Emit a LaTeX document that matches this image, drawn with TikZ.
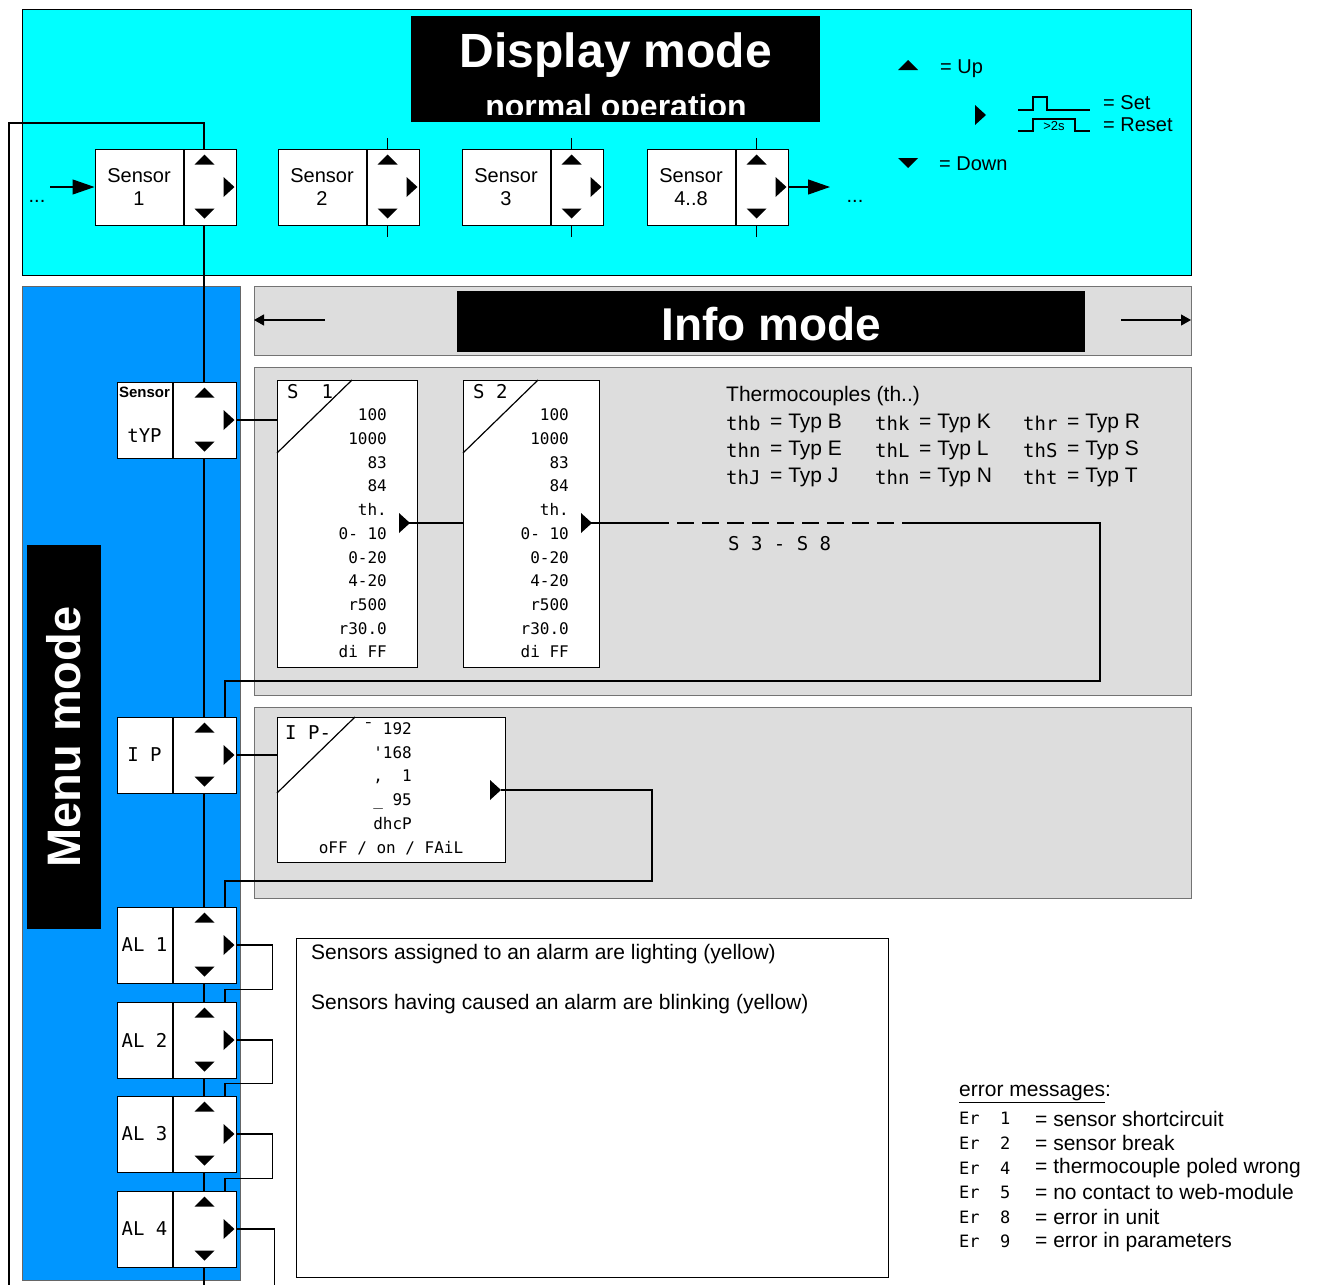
\documentclass[tikz,border=0pt]{standalone}
\usepackage{fontspec}
\setmainfont{Liberation Sans}
\newfontfamily\segfont{DejaVu Sans Mono}
\usetikzlibrary{calc,arrows.meta}

\definecolor{dispcyan}{RGB}{0,255,255}
\definecolor{menublue}{RGB}{0,150,255}
\definecolor{infogray}{RGB}{221,221,221}

\tikzset{
  uptri/.pic={\fill (-10,4) -- (10,4) -- (0,-6) -- cycle;},
  dntri/.pic={\fill (-10,-4) -- (10,-4) -- (0,6) -- cycle;},
  rttri/.pic={\fill (-5,-10) -- (-5,10) -- (6,0) -- cycle;}
}

\begin{document}
\begin{tikzpicture}[x=1pt,y=-1pt,
every node/.style={inner sep=0pt,font=\fontsize{20}{23}\selectfont},
wire/.style={line width=1.2pt},
namebox/.style={draw,fill=white,line width=1pt,minimum height=76pt,align=center},
keybox/.style={draw,fill=white,line width=1pt,minimum height=76pt},
dispbox/.style={draw,fill=white,line width=1pt,anchor=north west},
seg/.style={font=\segfont\fontsize{16}{16}\selectfont},
segmid/.style={font=\segfont\fontsize{17}{17}\selectfont},
segbig/.style={font=\segfont\fontsize{19}{19}\selectfont},
txt/.style={anchor=west,font=\fontsize{21}{24}\selectfont},
bigarrow/.style={wire,-{Triangle[length=22pt,width=15pt]}},
thinarrow/.style={wire,-{Triangle[length=10pt,width=11pt]}}
]
\useasboundingbox (0,0) rectangle (1320,1285);

% areas
\filldraw[fill=dispcyan,draw=black,line width=1pt] (22,9) rectangle (1191,275);
\filldraw[fill=menublue,draw=black!60,line width=1pt] (22,286) rectangle (240,1280);
\filldraw[fill=infogray,draw=black!55,line width=1pt] (254,286) rectangle (1191,355);
\filldraw[fill=infogray,draw=black!55,line width=1pt] (254,367) rectangle (1191,695);
\filldraw[fill=infogray,draw=black!55,line width=1pt] (254,707) rectangle (1191,898);

\coordinate (spine) at (204,0);
\coordinate (tap) at (225,0);
\coordinate (bottom) at (0,1285);

% display mode title
\node[fill=black,minimum width=409pt,minimum height=106pt,anchor=north west] (dmode) at (411,16) {};
\begin{scope}
\clip (dmode.north west) rectangle ($(dmode.south east)+(0,-8)$);
\node[text=white,font=\bfseries\fontsize{48}{48}\selectfont] (dmtitle) at (616,55) {Display mode};
\node[text=white,font=\bfseries\fontsize{32}{32}\selectfont,anchor=base] (dmsub) at (616,117) {normal operation};
\end{scope}

% legend
\pic at (908,66) {uptri};
\node[anchor=west] (lgup) at (940,69) {= Up};
\pic at (980,115) {rttri};
\draw[wire] (1018,110) -- (1033,110) -- (1033,97) -- (1047,97) -- (1047,110) -- (1090,110);
\draw[wire] (1018,131) -- (1033,131) -- (1033,119) -- (1075,119) -- (1075,131) -- (1090,131);
\node[font=\fontsize{13}{13}\selectfont] (lgtwo) at (1054,126) {>2s};
\node[anchor=west] (lgset) at (1103,103) {= Set};
\node[anchor=west] (lgreset) at (1103,125) {= Reset};
\pic at (908,162) {dntri};
\node[anchor=west] (lgdown) at (939,164) {= Down};

% sensors in display mode
\foreach \lx/\nm/\num in {139/1/1,322/2/2,506/3/3,691/4/{4..8}} {
  \node[namebox,minimum width=88pt] (s\nm) at (\lx,187) {Sensor\\\num};
  \node[keybox,minimum width=52pt,anchor=west] (s\nm k) at (s\nm.east) {};
  \pic at ($(s\nm k.north west)+(21,12)$) {uptri};
  \pic at ($(s\nm k.south west)+(21,-13)$) {dntri};
  \pic at ($(s\nm k.east)+(-8,0)$) {rttri};
}
\foreach \nm in {2,3,4} {
  \draw[wire] ($(s\nm k.north west)+(21,0)$) -- ++(0,-11);
  \draw[wire] ($(s\nm k.south west)+(21,0)$) -- ++(0,11);
}
\coordinate (inarr) at (50,187);
\coordinate (outarr) at (830,187);
\draw[bigarrow] (inarr) -- (s1.west);
\draw[bigarrow] (s4k.east) -- (outarr);
\node (indots) at (37,201) {...};
\node (outdots) at (855,201) {...};

% info mode bar
\node[fill=black,minimum width=628pt,minimum height=61pt,anchor=north west] (ibar) at (457,291) {};
\node[text=white,font=\bfseries\fontsize{46}{46}\selectfont] (ititle) at ($(ibar.center)+(0,2)$) {Info mode};
\coordinate (ilstart) at (325,320);
\coordinate (ilend) at (254,320);
\coordinate (irstart) at (1121,320);
\coordinate (irend) at (1191,320);
\draw[thinarrow] (ilstart) -- (ilend);
\draw[thinarrow] (irstart) -- (irend);

% menu mode bar
\node[fill=black,minimum width=74pt,minimum height=384pt] (menubar) at (64,737) {};
\node[rotate=90,text=white,font=\bfseries\fontsize{47}{47}\selectfont] (menutitle) at (menubar.center) {Menu mode};

% menu entries
\foreach \my/\nm/\lab in {420/typ/{},755/ip/{I P},945/al1/{AL\ 1},1040/al2/{AL\ 2},1134/al3/{AL\ 3},1229/al4/{AL\ 4}} {
  \node[namebox,minimum width=55pt,segbig] (\nm) at (144.5,\my) {\lab};
  \node[keybox,minimum width=63pt,anchor=west] (\nm k) at (\nm.east) {};
  \pic at ($(\nm k.north west)+(32,12)$) {uptri};
  \pic at ($(\nm k.south west)+(32,-13)$) {dntri};
  \pic at ($(\nm k.east)+(-8,0)$) {rttri};
}
\node[font=\bfseries\fontsize{15}{15}\selectfont] (typa) at ($(typ.north)+(0,11)$) {Sensor};
\node[segbig] (typb) at ($(typ.center)+(0,16)$) {tYP};

% sensor displays
\foreach \d/\dx/\dw/\lab in {1/277/140/{S\ \ 1},2/463/136/{S\ 2}} {
  \node[dispbox,minimum width=\dw pt,minimum height=287pt] (d\d) at (\dx,380) {};
  \draw[wire] ($(d\d.north west)+(0,73)$) -- ($(d\d.north west)+(75,0)$);
  \node[segbig,anchor=west] (d\d name) at ($(d\d.north west)+(10,12)$) {\lab};
  \foreach \v [count=\i] in {100,1000,83,84,th.,0- 10,0-20,4-20,r500,r30.0,di FF}
    \node[seg,anchor=east] (d\d v\i) at ($(d\d.north east)+(-31,11.3+23.7*\i)$) {\v};
  \pic at ($(d\d.north east)+(-14,143)$) {rttri};
  \coordinate (d\d out) at ($(d\d.north east)+(-9,143)$);
}
\node[segbig,anchor=west] (srest) at (728,544) {S 3 - S 8};

% thermocouples
\node[txt] (tchead) at (726,396) {Thermocouples (th..)};
\foreach \code/\typ/\cx/\ry in {thb/B/726/423,thn/E/726/450,thJ/J/726/477,thk/K/875/423,thL/L/875/450,thn/N/875/477,thr/R/1023/423,thS/S/1023/450,tht/T/1023/477} {
  \node[segbig,anchor=west] (tc\typ) at (\cx,\ry) {\code};
  \node[txt] (tt\typ) at (\cx+44,\ry) {= Typ \typ};
}

% ip display
\node[dispbox,minimum width=228pt,minimum height=145pt] (d3) at (277,717) {};
\draw[wire] ($(d3.north west)+(0,76)$) -- ($(d3.north west)+(78,0)$);
\node[segbig,anchor=west] (d3name) at ($(d3.north west)+(8,16)$) {I P-};
\node[seg,anchor=east] (ipv1) at ($(d3.north west)+(135,12)$) {¯ 192};
\node[seg,anchor=east] (ipv2) at ($(d3.north west)+(135,36)$) {'168};
\node[seg,anchor=east] (ipv3) at ($(d3.north west)+(135,60)$) {,\ \ 1};
\node[seg,anchor=east] (ipv4) at ($(d3.north west)+(135,84)$) {\_\ 95};
\node[seg,anchor=east] (ipv5) at ($(d3.north west)+(135,107)$) {dhcP};
\node[seg] (ipv6) at ($(d3.north west)+(114,131)$) {oFF / on / FAiL};
\pic at ($(d3.north east)+(-11,73)$) {rttri};
\coordinate (d3out) at ($(d3.north east)+(-5,73)$);

% note
\node[draw,fill=white,line width=1pt,minimum width=592pt,minimum height=339pt,anchor=north west] (note) at (296,938) {};
\node[txt] (note1) at ($(note.north west)+(15,16)$) {Sensors assigned to an alarm are lighting (yellow)};
\node[txt] (note2) at ($(note.north west)+(15,66)$) {Sensors having caused an alarm are blinking (yellow)};

% error messages
\node[txt] (errhead) at (959,1094) {\underline{error messages}:};
\foreach \ec/\et [count=\i] in {1/sensor shortcircuit,2/sensor break,4/thermocouple poled wrong,5/no contact to web-module,8/error in unit,9/error in parameters} {
  \node[segmid,anchor=west] (ec\i) at (959,1094+24.6*\i) {Er\ \ \ec};
  \node[txt] (et\i) at (1035,1094+24.6*\i) {= \et};
}

% connectors
\coordinate (loopcorner) at (9,123);
\draw[wire] (s1k.north -| spine) |- (loopcorner) -- (loopcorner |- bottom);
\foreach \a/\b in {s1k/typk,typk/ipk,ipk/al1k,al1k/al2k,al2k/al3k,al3k/al4k}
  \draw[wire] (\a.south -| spine) -- (\b.north -| spine);
\draw[wire] (al4k.south -| spine) -- (spine |- bottom);

\draw[wire] (typk.east) -- (typk.east -| d1.west);
\draw[wire] (d1out) -- (d1out -| d2.west);
\coordinate (dashA) at (652,523);
\coordinate (dashB) at (910,523);
\coordinate (loopR) at (1100,523);
\coordinate (ipret) at (1100,681);
\draw[wire] (d2out) -- (dashA);
\draw[wire,dash pattern=on 17pt off 8pt] (dashA) -- (dashB);
\draw[wire] (dashB) -- (loopR) -- (ipret) -| (ipk.north -| tap);

\draw[wire] (ipk.east) -- (ipk.east -| d3.west);
\coordinate (ipR) at (652,881);
\draw[wire] (d3out) -| (ipR) -| (al1k.north -| tap);

\foreach \a/\b in {al1/al2,al2/al3,al3/al4}
  \draw[wire] (\a k.east) -- ++(36,0) |- ($(\b k.north -| tap)+(0,-12)$) -- (\b k.north -| tap);
\coordinate (al4R) at ($(al4k.east)+(38,0)$);
\draw[wire] (al4k.east) -- (al4R) -- (al4R |- bottom);
\end{tikzpicture}
\end{document}
